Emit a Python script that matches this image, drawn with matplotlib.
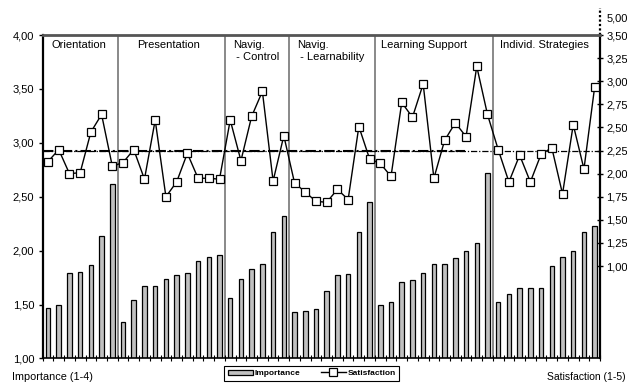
import matplotlib
matplotlib.use('Agg')
import matplotlib.pyplot as plt
import numpy as np
from matplotlib.ticker import FuncFormatter

plt.rcParams['font.family'] = ['Liberation Sans', 'DejaVu Sans']

sections = ['Orientation', 'Presentation', 'Navig.\n - Control', 'Navig.\n - Learnability',
            'Learning Support', 'Individ. Strategies']
section_sizes = [7, 10, 6, 8, 11, 10]
label_pos = [0.37, 8.3, 17.25, 23.2, 31.06, 42.2]

importance = [1.47, 1.50, 1.79, 1.80, 1.87, 2.14, 2.62,
              1.34, 1.54, 1.67, 1.67, 1.74, 1.77, 1.79, 1.90, 1.94, 1.96,
              1.56, 1.74, 1.83, 1.88, 2.17, 2.32,
              1.43, 1.44, 1.46, 1.63, 1.77, 1.78, 2.17, 2.45,
              1.50, 1.52, 1.71, 1.73, 1.79, 1.88, 1.88, 1.93, 2.00, 2.07, 2.72,
              1.52, 1.60, 1.65, 1.65, 1.65, 1.86, 1.94, 2.00, 2.17, 2.23]

satisfaction = [2.13, 2.26, 2.00, 2.01, 2.45, 2.64, 2.08,
                2.12, 2.26, 1.94, 2.58, 1.75, 1.91, 2.22, 1.95, 1.95, 1.94,
                2.58, 2.14, 2.62, 2.89, 1.92, 2.41,
                1.90, 1.80, 1.70, 1.69, 1.83, 1.72, 2.51, 2.16,
                2.11, 1.97, 2.77, 2.61, 2.97, 1.95, 2.36, 2.55, 2.40, 3.16, 2.64,
                2.26, 1.91, 2.20, 1.91, 2.21, 2.28, 1.78, 2.53, 2.05, 2.94]

mean_satisfaction = 2.25

comma = FuncFormatter(lambda v, p: ('%.2f' % v).replace('.', ','))

fig = plt.figure(figsize=(6.27, 3.85), dpi=100)
ax = fig.add_axes([0.068, 0.069, 0.889, 0.84])
ax2 = ax.twinx()

x = np.arange(len(importance))
ax.bar(x, importance, width=0.42, bottom=0, color='#c0c0c0', edgecolor='black',
       linewidth=0.9, label='Importance', zorder=2)
ax.set_xlim(-0.5, len(importance) - 0.5)
ax.set_ylim(1, 4)
ax.set_yticks(np.arange(1, 4.01, 0.5))
ax.yaxis.set_major_formatter(comma)
ax.set_xticks(np.arange(-0.5, len(importance), 1))
ax.set_xticklabels([])
ax.tick_params(axis='x', direction='inout', length=4, width=0.8)
ax.tick_params(axis='y', direction='out', length=3, width=1, labelsize=8, pad=3)

# section dividers and labels
bounds = np.cumsum(section_sizes)[:-1] - 0.5
for b in bounds:
    ax.axvline(b, color='#808080', lw=1.3, zorder=1)
for name, pos in zip(sections, label_pos):
    ax.text(pos, 3.95, name, fontsize=8, va='top', ha='left')

ax2.plot(x, satisfaction, color='black', lw=1, marker='s', markersize=6,
         markerfacecolor='white', markeredgecolor='black', markeredgewidth=0.9,
         label='Satisfaction', zorder=3)
# mean line: heavier on the left part, thin further right (as in the original)
ax2.axhline(mean_satisfaction, xmax=0.758, color='black', lw=1.5, dashes=(5, 1.5, 1, 1.5), zorder=2)
ax2.axhline(mean_satisfaction, color='black', lw=0.9, dashes=(5, 1.5, 1, 1.5), zorder=2)
ax2.set_ylim(0, 3.5)
ax2.set_yticks(np.arange(1, 3.51, 0.25))
ax2.yaxis.set_major_formatter(comma)
ax2.tick_params(axis='y', direction='inout', length=5, width=1, labelsize=8, pad=2)

for s in ['left', 'bottom', 'right']:
    ax2.spines[s].set_color('black')
ax2.spines['left'].set_linewidth(1.6)
ax2.spines['bottom'].set_linewidth(1.2)
ax2.spines['right'].set_linewidth(1.6)
ax2.spines['top'].set_color('#555555')
ax2.spines['top'].set_linewidth(2)
for s in ax.spines.values():
    s.set_visible(False)

# broken-axis continuation to 5,00 on the right
tr = ax2.get_yaxis_transform()
ax2.plot([1, 1], [3.5, 3.79], transform=tr, color='black', lw=1.6, ls=(0, (1, 1)),
         clip_on=False)
ax2.text(1.012, 3.684, '5,00', transform=tr, fontsize=8, va='center', ha='left')

h1, l1 = ax.get_legend_handles_labels()
h2, l2 = ax2.get_legend_handles_labels()
leg = fig.legend(h1 + h2, l1 + l2, loc='center', bbox_to_anchor=(0.497, 0.030), ncol=2,
                 frameon=True, fancybox=False, edgecolor='black', framealpha=1,
                 prop={'size': 6, 'weight': 'bold'}, handlelength=3, handleheight=0.6,
                 borderpad=0.45, columnspacing=2.5, handletextpad=0.2)
leg.get_frame().set_linewidth(0.8)

fig.text(0.019, 0.008, 'Importance (1-4)', fontsize=7.8, ha='left', va='bottom')
fig.text(0.873, 0.008, 'Satisfaction (1-5)', fontsize=7.5, ha='left', va='bottom')

fig.savefig('out.png', dpi=100)
plt.close(fig)
